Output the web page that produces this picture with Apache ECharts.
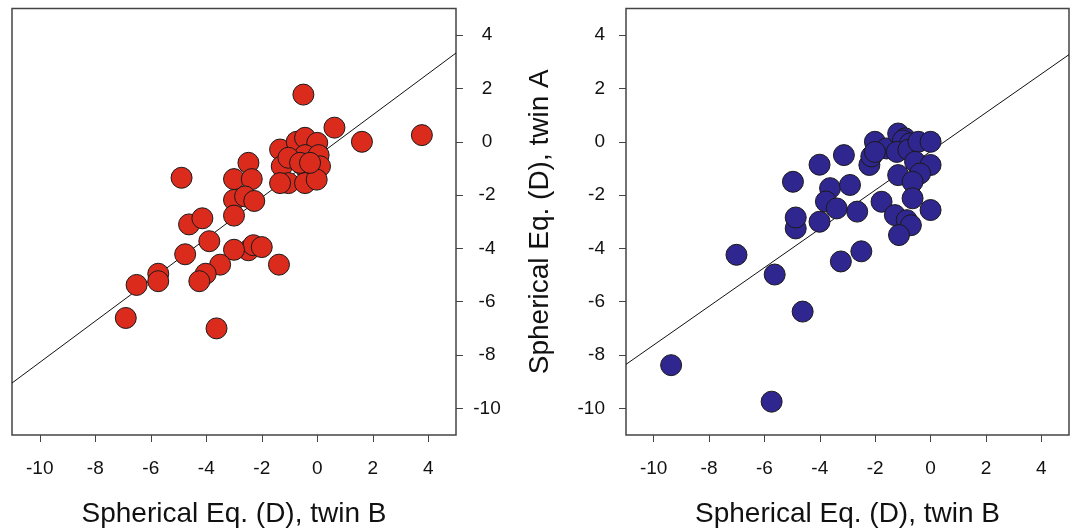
<!DOCTYPE html>
<html>
<head>
<meta charset="utf-8">
<script src="https://cdn.jsdelivr.net/npm/echarts@6/dist/echarts.min.js"></script>
<style>
html,body{margin:0;padding:0;background:#fff;}
#chart{width:1077px;height:528px;}
</style>
</head>
<body>
<div id="chart"></div>
<script>
// Left panel: twin B (x) vs twin A (y), red points
const leftPoints = [
  [-0.50,1.77],[0.62,0.53],[1.61,0.0],[3.77,0.25],[-4.89,-1.35],
  [-2.48,-0.79],[-3.0,-1.40],[-2.36,-1.40],[-3.0,-2.18],[-2.6,-2.05],
  [-2.27,-2.22],[-3.0,-2.77],[-4.62,-3.10],[-4.14,-2.87],[-3.89,-3.73],
  [-4.76,-4.22],[-2.48,-4.07],[-2.3,-3.88],[-2.0,-3.95],[-3.0,-4.05],
  [-3.50,-4.61],[-1.38,-4.61],[-5.73,-4.95],[-5.73,-5.23],[-6.51,-5.37],
  [-4.02,-4.95],[-4.25,-5.23],[-6.90,-6.61],[-3.63,-7.0],
  [-1.34,-0.29],[-0.74,0.0],[-0.44,0.15],[0.0,-0.04],[-0.44,-0.5],[0.05,-0.5],
  [-1.28,-0.92],[-1.04,-0.6],[-0.4,-1.0],[0.10,-0.92],
  [-1.04,-1.55],[-1.34,-1.55],[-0.44,-1.55],[-0.02,-1.42],
  [-0.62,-0.79],[-0.26,-0.79]
];
// Right panel: blue points
const rightPoints = [
  [-9.37,-8.38],[-5.74,-9.75],[-7.01,-4.24],[-5.63,-4.98],[-4.62,-6.37],
  [-4.97,-1.50],[-4.87,-3.25],[-4.87,-2.84],[-4.01,-0.86],[-4.01,-3.0],
  [-3.13,-0.50],[-3.63,-1.74],[-2.91,-1.62],[-3.78,-2.24],[-3.39,-2.50],
  [-2.65,-2.62],[-3.24,-4.49],[-2.5,-4.11],[-2.21,-0.87],[-2.14,-0.55],
  [-2.01,0.0],[-1.59,-0.25],[-2.01,-0.38],[-1.77,-2.25],
  [-1.17,0.31],[-0.92,0.13],[-1.0,0.05],[-0.74,-0.06],[-1.22,-0.38],[-0.8,-0.3],
  [-0.44,0.0],[0.0,0.0],[-0.56,-0.75],[0.0,-0.87],[-0.38,-1.19],[-1.17,-1.25],
  [-0.65,-1.50],[-0.65,-2.12],[0.0,-2.56],[-1.29,-2.75],[-0.86,-2.94],
  [-0.71,-3.13],[-1.14,-3.50]
];
// Regression line end points [x, y]
const leftFit = [[-11,-9.05],[5,3.33]];
const rightFit = [[-11,-8.35],[5,3.27]];
// Axis settings and tick labels
const axisMin = -11, axisMax = 5;
const tickValues = [-10,-8,-6,-4,-2,0,2,4];
const xTitle = 'Spherical Eq. (D), twin B';
const yTitle = 'Spherical Eq. (D), twin A';
const redColor = '#DA2B1D';
const blueColor = '#30268F';

const frameColor = '#444';
const font = 'Liberation Sans, Arial, sans-serif';

function xAxisCfg(gridIndex){
  return {
    gridIndex, type:'value', min:axisMin, max:axisMax,
    axisLine:{show:false, onZero:false},
    axisTick:{show:true, inside:false, length:7, lineStyle:{color:frameColor, width:1}, customValues:tickValues},
    splitLine:{show:false},
    axisLabel:{
      margin:24, color:'#111', fontSize:19, fontFamily:font,
      customValues:tickValues,
      formatter:v=>String(v)
    },
    name:xTitle, nameLocation:'middle', nameGap:65,
    nameTextStyle:{fontSize:28, color:'#111', fontFamily:font}
  };
}
function yAxisCfg(gridIndex, pos){
  const cfg = {
    gridIndex, type:'value', min:axisMin, max:axisMax, position:pos,
    axisLine:{show:false, onZero:false},
    axisTick:{show:true, inside:false, length:7, lineStyle:{color:frameColor, width:1}, customValues:tickValues},
    splitLine:{show:false},
    axisLabel:{
      color:'#111', fontSize:19, fontFamily:font,
      customValues:tickValues,
      formatter:v=>String(v)
    }
  };
  if(pos==='right'){
    cfg.axisLabel.margin = 31;
    cfg.axisLabel.align = 'center';
  } else {
    cfg.axisLabel.margin = 21;
    cfg.name = yTitle;
    cfg.nameLocation = 'middle';
    cfg.nameGap = 72;
    cfg.nameTextStyle = {fontSize:28, color:'#111', fontFamily:font};
  }
  return cfg;
}

const chart = echarts.init(document.getElementById('chart'), null, {renderer:'canvas'});
chart.setOption({
  animation:false,
  backgroundColor:'#fff',
  grid:[
    {left:12, top:8.5, width:444, height:426.5, show:true, borderColor:frameColor, borderWidth:1.5,
     backgroundColor:'transparent', containLabel:false, outerBoundsMode:'none'},
    {left:626, top:8.5, width:443, height:426.5, show:true, borderColor:frameColor, borderWidth:1.5,
     backgroundColor:'transparent', containLabel:false, outerBoundsMode:'none'}
  ],
  xAxis:[xAxisCfg(0), xAxisCfg(1)],
  yAxis:[yAxisCfg(0,'right'), yAxisCfg(1,'left')],
  series:[
    {type:'line', xAxisIndex:0, yAxisIndex:0, data:leftFit, showSymbol:false, symbol:'none',
     lineStyle:{color:'#111', width:1}, z:1, silent:true},
    {type:'scatter', xAxisIndex:0, yAxisIndex:0, data:leftPoints, symbolSize:21,
     itemStyle:{color:redColor, borderColor:'#1a1a1a', borderWidth:1, opacity:1}, z:2},
    {type:'line', xAxisIndex:1, yAxisIndex:1, data:rightFit, showSymbol:false, symbol:'none',
     lineStyle:{color:'#111', width:1}, z:1, silent:true},
    {type:'scatter', xAxisIndex:1, yAxisIndex:1, data:rightPoints, symbolSize:21,
     itemStyle:{color:blueColor, borderColor:'#1a1a1a', borderWidth:1, opacity:1}, z:2}
  ]
});
</script>
</body>
</html>
